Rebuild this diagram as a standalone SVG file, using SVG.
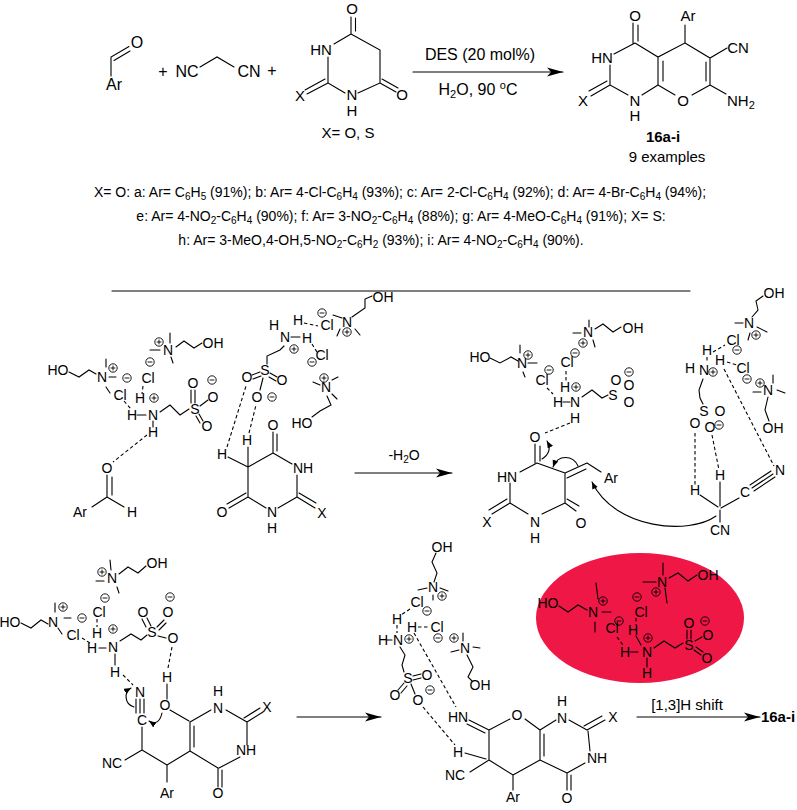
<svg xmlns="http://www.w3.org/2000/svg" xmlns:xlink="http://www.w3.org/1999/xlink" width="797" height="810" viewBox="0 0 797 810">
<style>
.t{font-family:"Liberation Sans",Arial,sans-serif;font-size:14px;text-anchor:middle;fill:#000}
.u{font-family:"Liberation Sans",Arial,sans-serif;font-size:15px;text-anchor:middle;fill:#000}
.g{font-family:"Liberation Sans",Arial,sans-serif;font-size:16px;text-anchor:middle;fill:#000}
.bd{font-weight:bold}
.l{stroke:#000;stroke-width:1.1;fill:none;stroke-linecap:round}
.d{stroke:#000;stroke-width:1.1;fill:none;stroke-dasharray:3.5 2.5}
.c{fill:none;stroke:#000;stroke-width:0.9}
</style>
<defs>
<g id="p"><circle class="c" r="4.2"/><path class="c" d="M-2.4 0H2.4M0 -2.4V2.4"/></g>
<g id="m"><circle class="c" r="4.2"/><path class="c" d="M-2.4 0H2.4"/></g>
<marker id="ra" markerUnits="userSpaceOnUse" markerWidth="18" markerHeight="10" refX="16" refY="5" orient="auto"><path d="M0 0.5L16 5L0 9.5L4 5Z" fill="#000"/></marker>
<marker id="ca" markerUnits="userSpaceOnUse" markerWidth="8" markerHeight="7" refX="7" refY="3" orient="auto"><path d="M0 0L7 3L0 6Z" fill="#000"/></marker>
</defs>
<rect width="797" height="810" fill="#fff"/>

<!-- ===== TOP REACTION ===== -->
<g id="aldehyde">
<text class="g" x="137" y="48">O</text>
<text class="g" x="114" y="90">Ar</text>
<path class="l" d="M111 76V57L129 46.5M114 60.5L130 51"/>
</g>
<g id="malononitrile">
<text class="g" x="163" y="77">+</text>
<text class="g" x="187" y="77">NC</text>
<path class="l" d="M200 67L217 57L234 67"/>
<text class="g" x="249" y="77">CN</text>
<text class="g" x="272" y="76">+</text>
</g>
<g id="barbituric">
<text class="u" x="352" y="13.5">O</text>
<path class="l" d="M351 17V34M355.5 18V31M351 34L334 44M351 34L380 50V83L358 93M328 57V83L345 93M380 83L396 92M382 79L398 88M328 83L307 94M325 79L305 90"/>
<text class="u" x="321" y="54.5">HN</text>
<text class="u" x="352" y="99.5">N</text>
<text class="u" x="352" y="116">H</text>
<text class="u" x="402" y="99.5">O</text>
<text class="u" x="300" y="100.5">X</text>
<text class="u" x="348" y="138">X= O, S</text>
</g>
<g id="arrow1">
<path class="l" d="M413 72H563" marker-end="url(#ra)"/>
<text class="g" x="480" y="60">DES (20 mol%)</text>
<text class="g" x="478" y="95">H<tspan font-size="11" dy="3">2</tspan><tspan dy="-3">O, 90 </tspan><tspan font-size="11" dy="-6">o</tspan><tspan dy="6">C</tspan></text>
</g>
<g id="product">
<text class="u" x="635" y="20.5">O</text>
<text class="u" x="688" y="20.5">Ar</text>
<path class="l" d="M633 23V43M638 25V41M635 43L614 54M635 43L658 57L685 43V25M685 43L710 58L727 48M710 58V85M706 62V81M710 85L726 94M710 85L692 95M675 95L658 85M658 57V85M663 61V81M658 85L642 95M628 95L610 85V65M610 85L591 96M607 81L589 91"/>
<text class="u" x="602" y="63">HN</text>
<text class="u" x="738" y="52.5">CN</text>
<text class="u" x="727" y="105.5" style="text-anchor:start">NH<tspan font-size="11" dy="3">2</tspan></text>
<text class="u" x="683" y="105.5">O</text>
<text class="u" x="635" y="105.5">N</text>
<text class="u" x="635" y="121">H</text>
<text class="u" x="583" y="105.5">X</text>
<text class="u bd" x="663" y="142">16a-i</text>
<text class="u" x="667" y="162">9 examples</text>
</g>
<g id="scope">
<text class="t" x="400" y="197">X= O: a: Ar= C<tspan font-size="10" dy="3">6</tspan><tspan dy="-3">H</tspan><tspan font-size="10" dy="3">5</tspan><tspan dy="-3"> (91%); b: Ar= 4-Cl-C</tspan><tspan font-size="10" dy="3">6</tspan><tspan dy="-3">H</tspan><tspan font-size="10" dy="3">4</tspan><tspan dy="-3"> (93%); c: Ar= 2-Cl-C</tspan><tspan font-size="10" dy="3">6</tspan><tspan dy="-3">H</tspan><tspan font-size="10" dy="3">4</tspan><tspan dy="-3"> (92%); d: Ar= 4-Br-C</tspan><tspan font-size="10" dy="3">6</tspan><tspan dy="-3">H</tspan><tspan font-size="10" dy="3">4</tspan><tspan dy="-3"> (94%);</tspan></text>
<text class="t" x="401" y="221">e: Ar= 4-NO<tspan font-size="10" dy="3">2</tspan><tspan dy="-3">-C</tspan><tspan font-size="10" dy="3">6</tspan><tspan dy="-3">H</tspan><tspan font-size="10" dy="3">4</tspan><tspan dy="-3"> (90%); f: Ar= 3-NO</tspan><tspan font-size="10" dy="3">2</tspan><tspan dy="-3">-C</tspan><tspan font-size="10" dy="3">6</tspan><tspan dy="-3">H</tspan><tspan font-size="10" dy="3">4</tspan><tspan dy="-3"> (88%); g: Ar= 4-MeO-C</tspan><tspan font-size="10" dy="3">6</tspan><tspan dy="-3">H</tspan><tspan font-size="10" dy="3">4</tspan><tspan dy="-3"> (91%); X= S:</tspan></text>
<text class="t" x="381" y="245">h: Ar= 3-MeO,4-OH,5-NO<tspan font-size="10" dy="3">2</tspan><tspan dy="-3">-C</tspan><tspan font-size="10" dy="3">6</tspan><tspan dy="-3">H</tspan><tspan font-size="10" dy="3">2</tspan><tspan dy="-3"> (93%); i: Ar= 4-NO</tspan><tspan font-size="10" dy="3">2</tspan><tspan dy="-3">-C</tspan><tspan font-size="10" dy="3">6</tspan><tspan dy="-3">H</tspan><tspan font-size="10" dy="3">4</tspan><tspan dy="-3"> (90%).</tspan></text>
</g>
<path id="separator" class="l" d="M112 291H690"/>

<!-- ===== MECHANISM STEP 1 ===== -->
<g id="des-left">
<text class="t" x="58" y="375">HO</text>
<path class="l" d="M69 372L79 377L89 370L96 374M106 359V367M109 377H116M106 387L110 393"/>
<text class="t" x="102" y="382">N</text>
<use href="#p" x="113" y="368"/>
<use href="#m" x="127" y="378"/>
<text class="t" x="120" y="400">Cl</text>
<path class="d" d="M124 401L131 409"/>
<use href="#p" x="159" y="342"/>
<path class="l" d="M150 350H160M170 333V343M171 357L173 363M176 347L184 341L194 348L202 343"/>
<text class="t" x="168" y="355">N</text>
<text class="t" x="213" y="348">OH</text>
<use href="#m" x="150" y="362"/>
<text class="t" x="148" y="383">Cl</text>
<path class="d" d="M143 386L142 394"/>
<text class="t" x="140" y="403">H</text>
<use href="#p" x="154" y="398"/>
<text class="t" x="132" y="420">H</text>
<path class="l" d="M137 415H146M153 421V427M160 412L170 405L180 415L189 409"/>
<text class="t" x="153" y="420">N</text>
<text class="t" x="153" y="437">H</text>
<text class="t" x="195" y="414">S</text>
<text class="t" x="193" y="388">O</text>
<use href="#m" x="212" y="380"/>
<text class="t" x="213" y="402">O</text>
<text class="t" x="207" y="431">O</text>
<path class="l" d="M191 390V403M195 390V403M200 406L208 400M199 414L203 421M196 416L200 423"/>
<path class="d" d="M147 435L113 462"/>
<text class="t" x="107" y="473">O</text>
<path class="l" d="M107 475V497M112 477V495M107 497L92 507M107 497L124 507"/>
<text class="t" x="80" y="517">Ar</text>
<text class="t" x="132" y="517">H</text>
</g>
<g id="barbituric-mid">
<text class="t" x="222" y="459">H</text>
<text class="t" x="247" y="445">H</text>
<text class="t" x="273" y="430">O</text>
<text class="t" x="303" y="473">NH</text>
<text class="t" x="322" y="518">X</text>
<text class="t" x="272" y="517">N</text>
<text class="t" x="272" y="533">H</text>
<text class="t" x="222" y="517">O</text>
<path class="l" d="M228 457L248 467M248 447V497M248 467L273 453M273 432V453M277 434V451M273 453L292 464M297 475V497M297 497L315 508M299 493L316 503M297 497L278 508M266 508L248 497M248 497L229 508M246 493L227 504"/>
</g>
<g id="des-mid">
<text class="t" x="265" y="375">S</text>
<text class="t" x="247" y="382">O</text>
<text class="t" x="282" y="385">O</text>
<text class="t" x="257" y="402">O</text>
<use href="#m" x="272" y="397"/>
<path class="l" d="M252 375L260 372M253 379L261 376M270 373L277 377M269 377L276 381M263 378L260 390M267 364V356L280 350L284 346"/>
<text class="t" x="285" y="342">N</text>
<text class="t" x="274" y="330">H</text>
<text class="t" x="298" y="325">H</text>
<path class="l" d="M291 337H300"/>
<text class="t" x="307" y="343">H</text>
<use href="#p" x="294" y="349"/>
<path class="d" d="M304 323L318 326M312 344L317 352"/>
<text class="t" x="327" y="330">Cl</text>
<use href="#m" x="322" y="313"/>
<text class="t" x="347" y="327">N</text>
<use href="#p" x="347" y="332"/>
<path class="l" d="M333 315L342 318M340 329L337 336M355 329L360 335M352 317L365 308V299L372 296"/>
<text class="t" x="383" y="302">OH</text>
<text class="t" x="322" y="360">Cl</text>
<use href="#m" x="312" y="362"/>
<use href="#p" x="324" y="378"/>
<text class="t" x="326" y="392">N</text>
<path class="l" d="M313 382L320 385M332 380L338 377M332 394L337 399M327 396L331 405L320 411L312 417"/>
<text class="t" x="302" y="428">HO</text>
<path class="d" d="M227 447L246 386M249 433L256 405"/>
</g>
<g id="arrow2">
<path class="l" d="M355 473H452" marker-end="url(#ra)"/>
<text class="t" x="404" y="460">-H<tspan font-size="10" dy="3">2</tspan><tspan dy="-3">O</tspan></text>
</g>

<!-- ===== MECHANISM STEP 2 ===== -->
<g id="des-right1">
<text class="t" x="480" y="362">HO</text>
<path class="l" d="M490 358L500 363L511 357L518 361M520 345V353M528 363H537M523 372L525 377"/>
<text class="t" x="522" y="368">N</text>
<use href="#p" x="528" y="355"/>
<text class="t" x="542" y="385">Cl</text>
<use href="#m" x="549" y="370"/>
<path class="d" d="M547 388L553 394"/>
<text class="t" x="588" y="337">N</text>
<use href="#p" x="583" y="343"/>
<path class="l" d="M573 333H581M589 320V327M593 340L595 347M595 329L603 324L613 332L621 327"/>
<text class="t" x="633" y="333">OH</text>
<text class="t" x="567" y="367">Cl</text>
<use href="#m" x="575" y="353"/>
<path class="d" d="M566 371V381"/>
<text class="t" x="565" y="392">H</text>
<use href="#p" x="576" y="387"/>
<text class="t" x="558" y="407">H</text>
<path class="l" d="M563 402H570M582 397L592 390L602 398L608 395"/>
<text class="t" x="575" y="407">N</text>
<text class="t" x="575" y="423">H</text>
<text class="t" x="613" y="400">S</text>
<text class="t" x="616" y="385">O</text>
<use href="#m" x="629" y="372"/>
<text class="t" x="629" y="390">O</text>
<text class="t" x="629" y="407">O</text>
<path class="d" d="M570 423L545 433"/>
</g>
<g id="alkylidene">
<text class="t" x="535" y="442">O</text>
<path class="l" d="M535 444V463M540 446V461"/>
<path class="l" d="M542 459Q553 452 547 441" marker-end="url(#ca)"/>
<text class="t" x="507" y="482">HN</text>
<text class="t" x="487" y="527">X</text>
<text class="t" x="535" y="527">N</text>
<text class="t" x="535" y="543">H</text>
<text class="t" x="581" y="528">O</text>
<text class="t" x="611" y="483">Ar</text>
<path class="l" d="M537 463L520 472M510 483V503M510 503L492 514M507 499L489 510M510 503L528 514M542 514L565 503M565 503L576 511M567 499L579 506M565 503V473M565 473L537 463M565 473L587 463M567 478L586 469M587 463L601 472"/>
<path class="l" d="M578 466C573 455 558 454 553 467" marker-end="url(#ca)"/>
<path class="l" d="M716 516C690 535 615 530 592 482" marker-end="url(#ca)"/>
</g>
<g id="des-right2">
<text class="t" x="774" y="298">OH</text>
<path class="l" d="M752 317L758 310L756 301L763 296M735 323H743M757 327L767 332M750 333L748 340"/>
<text class="t" x="749" y="328">N</text>
<use href="#p" x="756" y="335"/>
<text class="t" x="733" y="345">Cl</text>
<use href="#m" x="737" y="350"/>
<text class="t" x="707" y="355">H</text>
<path class="d" d="M713 352L725 345M707 357V363M727 362L737 365M724 369L774 466"/>
<text class="t" x="690" y="373">H</text>
<text class="t" x="704" y="375">N</text>
<use href="#p" x="713" y="372"/>
<text class="t" x="720" y="365">H</text>
<text class="t" x="743" y="373">Cl</text>
<use href="#m" x="747" y="379"/>
<path class="l" d="M703 379L699 390L700 398L703 404"/>
<text class="t" x="704" y="416">S</text>
<text class="t" x="720" y="416">O</text>
<text class="t" x="695" y="428">O</text>
<text class="t" x="710" y="432">O</text>
<use href="#m" x="719" y="425"/>
<use href="#p" x="760" y="383"/>
<text class="t" x="768" y="395">N</text>
<path class="l" d="M773 375V383M753 392H761M777 390L785 393M768 397L765 410L769 421"/>
<text class="t" x="773" y="433">OH</text>
</g>
<g id="malononitrile-mid">
<path class="d" d="M695 433V485M712 435L719 470"/>
<text class="t" x="695" y="495">H</text>
<text class="t" x="720" y="480">H</text>
<text class="t" x="745" y="497">C</text>
<text class="t" x="780" y="475">N</text>
<text class="t" x="720" y="535">CN</text>
<path class="l" d="M700 495L718 507M720 482V506M721 508L739 498M752 488L773 474M754 491L775 477M750 485L771 471M720 510V522"/>
</g>

<!-- ===== MECHANISM STEP 3 ===== -->
<g id="des-bl">
<use href="#p" x="102" y="572"/>
<text class="t" x="112" y="583">N</text>
<path class="l" d="M110 560L111 570M96 581H104M117 587L119 593M119 574L128 567L138 573L146 566"/>
<text class="t" x="157" y="568">OH</text>
<use href="#m" x="105" y="598"/>
<text class="t" x="99" y="617">Cl</text>
<path class="d" d="M97 619V627"/>
<text class="t" x="97" y="638">H</text>
<use href="#p" x="113" y="629"/>
<text class="t" x="92" y="653">H</text>
<path class="l" d="M99 648H106M115 654V665M120 641L131 634L141 640L147 635"/>
<text class="t" x="113" y="652">N</text>
<text class="t" x="115" y="677">H</text>
<text class="t" x="152" y="637">S</text>
<text class="t" x="143" y="617">O</text>
<use href="#m" x="170" y="597"/>
<text class="t" x="168" y="617">O</text>
<text class="t" x="173" y="643">O</text>
<path class="l" d="M142 619L146 627M147 618L151 626M157 627L164 620M159 630L166 623M158 636L166 638"/>
<path class="d" d="M172 647L168 668"/>
<text class="t" x="167" y="682">H</text>
<path class="l" d="M167 684V699"/>
<text class="t" x="10" y="627">HO</text>
<path class="l" d="M21 623L31 628L41 620L48 624M55 603V612M64 618H71M58 628L62 634"/>
<text class="t" x="53" y="627">N</text>
<use href="#p" x="63" y="607"/>
<use href="#m" x="82" y="618"/>
<text class="t" x="73" y="640">Cl</text>
<path class="d" d="M82 638L90 643M123 675L133 685"/>
</g>
<g id="adduct">
<text class="t" x="140" y="697">N</text>
<path class="l" d="M136 699V713M140 699V713M144 699V713"/>
<text class="t" x="142" y="725">C</text>
<path class="l" d="M134 707C124 704 124 692 131 688" marker-end="url(#ca)"/>
<text class="t" x="165" y="710">O</text>
<path class="l" d="M162 713C160 722 155 725 149 721" marker-end="url(#ca)"/>
<text class="t" x="218" y="713">N</text>
<text class="t" x="218" y="696">H</text>
<text class="t" x="267" y="712">X</text>
<text class="t" x="246" y="755">NH</text>
<text class="t" x="218" y="798">O</text>
<text class="t" x="167" y="798">Ar</text>
<text class="t" x="112" y="768">NC</text>
<path class="l" d="M170 710L189 721M190 722L211 710M226 710L247 722M247 722L263 712M244 718L260 708M247 722V745M240 757L219 768M218 768V787M222 770V787M218 768L190 751M190 751V722M194 747V726M190 751L167 765M167 765V782M167 765L142 750M142 750V727M142 750L125 760"/>
</g>
<path id="arrow3" class="l" d="M297 717H381" marker-end="url(#ra)"/>

<!-- ===== MECHANISM STEP 4 ===== -->
<g id="des-bm">
<text class="t" x="442" y="552">OH</text>
<path class="l" d="M436 553L432 562L437 573L434 582M418 590L427 588M440 588L448 591M433 595V600"/>
<text class="t" x="433" y="592">N</text>
<use href="#p" x="442" y="596"/>
<text class="t" x="417" y="607">Cl</text>
<use href="#m" x="427" y="611"/>
<path class="d" d="M410 609L401 615M397 625V633M418 627H428"/>
<text class="t" x="397" y="624">H</text>
<text class="t" x="383" y="645">H</text>
<path class="l" d="M387 640H392"/>
<text class="t" x="398" y="645">N</text>
<use href="#p" x="409" y="639"/>
<text class="t" x="412" y="632">H</text>
<text class="t" x="437" y="632">Cl</text>
<use href="#m" x="438" y="638"/>
<use href="#p" x="454" y="638"/>
<text class="t" x="465" y="653">N</text>
<path class="l" d="M463 633V641M451 652L459 650M473 647L480 648M467 655L473 667L468 677L472 681"/>
<text class="t" x="480" y="690">OH</text>
<path class="l" d="M400 647L405 655L402 665L404 672"/>
<text class="t" x="408" y="683">S</text>
<text class="t" x="427" y="680">O</text>
<text class="t" x="395" y="700">O</text>
<text class="t" x="418" y="705">O</text>
<use href="#m" x="430" y="690"/>
<path class="l" d="M413 676L421 674M413 680L421 678M404 683L398 690M407 686L401 693M411 684L415 694"/>
<path class="d" d="M414 633L456 707M423 707L455 745"/>
</g>
<g id="cyclized">
<text class="t" x="458" y="722">HN</text>
<text class="t" x="517" y="720">O</text>
<text class="t" x="562" y="723">N</text>
<text class="t" x="562" y="706">H</text>
<text class="t" x="613" y="722">X</text>
<text class="t" x="597" y="763">NH</text>
<text class="t" x="567" y="803">O</text>
<text class="t" x="513" y="802">Ar</text>
<text class="t" x="458" y="757">H</text>
<text class="t" x="455" y="780">NC</text>
<path class="l" d="M469 720L489 730M467 724L485 733M489 730L510 719M525 719L540 730M540 730L556 720M569 720L587 730M587 730L605 720M584 726L602 716M588 731L590 751M585 763L567 773M567 773V790M571 775V790M567 773L540 760M540 760V730M544 756V734M540 760L513 775M513 775V790M513 775L489 760M489 760V730M486 759L465 753M489 760L470 772"/>
</g>
<g id="des-catalyst">
<ellipse cx="640" cy="618" rx="104" ry="65" fill="#EE1746"/>
<text class="t" x="548" y="608">HO</text>
<path class="l" d="M559 606L568 612L578 605L587 610M596 583L598 599M602 612H611M595 622V632"/>
<text class="t" x="593" y="617">N</text>
<use href="#p" x="603" y="601"/>
<text class="t" x="662" y="587">N</text>
<use href="#p" x="656" y="592"/>
<path class="l" d="M663 563V575M643 582H656M665 588L667 603M669 578L678 573L688 581L697 575"/>
<text class="t" x="708" y="580">OH</text>
<use href="#m" x="637" y="597"/>
<text class="t" x="641" y="617">Cl</text>
<path class="d" d="M636 618V625M617 637L623 645"/>
<text class="t" x="633" y="635">H</text>
<use href="#m" x="619" y="621"/>
<text class="t" x="612" y="633">Cl</text>
<text class="t" x="625" y="657">H</text>
<path class="l" d="M630 652H638M647 658V667M636 636L641 645M654 648L664 641L675 648L683 643"/>
<text class="t" x="647" y="657">N</text>
<use href="#p" x="648" y="638"/>
<text class="t" x="647" y="678">H</text>
<text class="t" x="689" y="650">S</text>
<text class="t" x="689" y="628">O</text>
<path class="l" d="M687 630V639M691 630V639M695 641L702 637M694 650L701 655M696 647L703 652"/>
<use href="#m" x="705" y="621"/>
<text class="t" x="708" y="640">O</text>
<text class="t" x="707" y="663">O</text>
</g>
<g id="arrow4">
<path class="l" d="M637 717H760" marker-end="url(#ra)"/>
<text class="u" x="687" y="710">[1,3]H shift</text>
<text class="u bd" x="778" y="722">16a-i</text>
</g>
</svg>
